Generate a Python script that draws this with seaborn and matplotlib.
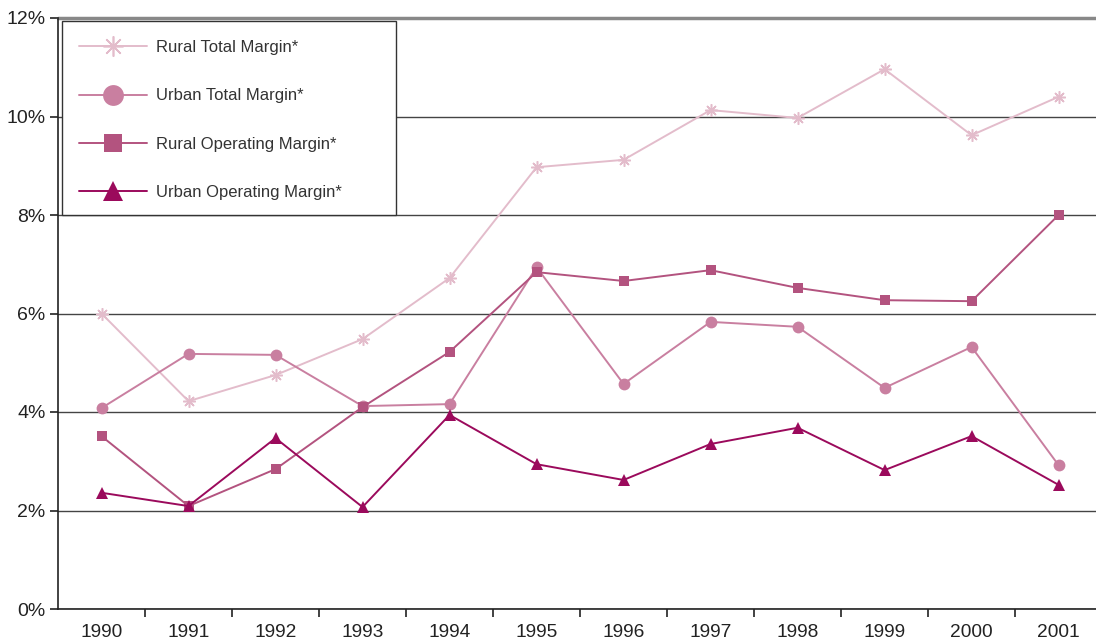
import numpy as np
import pandas as pd
import seaborn as sns
import matplotlib.pyplot as plt
from matplotlib.lines import Line2D
from matplotlib.patches import Rectangle
from matplotlib.ticker import FixedLocator, PercentFormatter

years = ["1990", "1991", "1992", "1993", "1994", "1995", "1996", "1997", "1998", "1999", "2000", "2001"]
rural_total = [6.00, 4.22, 4.75, 5.48, 6.72, 8.97, 9.12, 10.13, 9.97, 10.96, 9.62, 10.40]
urban_total = [4.08, 5.18, 5.16, 4.12, 4.16, 6.94, 4.57, 5.83, 5.73, 4.49, 5.32, 2.92]
rural_operating = [3.51, 2.09, 2.84, 4.10, 5.22, 6.84, 6.66, 6.88, 6.52, 6.27, 6.25, 8.00]
urban_operating = [2.36, 2.09, 3.47, 2.07, 3.94, 2.94, 2.62, 3.35, 3.68, 2.82, 3.51, 2.52]

series_names = ["Rural Total Margin*", "Urban Total Margin*",
                "Rural Operating Margin*", "Urban Operating Margin*"]
series_values = [rural_total, urban_total, rural_operating, urban_operating]
colors = ["#e3bccb", "#c97fa0", "#b3537f", "#9b0a5c"]
markers = [(8, 2, 0), "o", "s", "^"]
msizes = [9, 8.5, 7, 8.5]
legend_msizes = [14.5, 15, 12.5, 14.5]

df = pd.DataFrame({
    "year": years * 4,
    "value": [v for vals in series_values for v in vals],
    "series": [n for n in series_names for _ in years],
})
df["x"] = df["year"].map({y: i for i, y in enumerate(years)})

sns.set_style("white")
plt.rcParams["font.family"] = ["Liberation Sans", "DejaVu Sans"]

W, H = 1096, 643
fig = plt.figure(figsize=(W / 100, H / 100), dpi=100)
ax = fig.add_axes([58 / W, 34 / H, 1038 / W, 591 / H])

for name, col, mk, ms in zip(series_names, colors, markers, msizes):
    sub = df[df["series"] == name]
    sns.lineplot(data=sub, x="x", y="value", ax=ax, color=col, marker=mk,
                 markersize=ms, markeredgecolor=col,
                 markeredgewidth=1.1 if mk == markers[0] else 0,
                 linewidth=1.4, legend=False)

ax.set_xlim(-0.5, 11.43)
ax.set_ylim(0, 12)
ax.set_yticks(np.arange(0, 13, 2))
ax.yaxis.set_major_formatter(PercentFormatter(decimals=0))
ax.set_xticks(range(len(years)))
ax.set_xticklabels(years)
ax.xaxis.set_minor_locator(FixedLocator(np.arange(0.5, 11, 1)))
ax.tick_params(axis="x", which="major", bottom=True, length=0, labelsize=13.8, pad=11,
               colors="#222222")
ax.tick_params(axis="x", which="minor", bottom=True, length=6, width=1.2,
               direction="out", color="#222222")
ax.tick_params(axis="y", which="major", left=True, length=6, width=1.2, direction="out",
               labelsize=14, pad=3, colors="#222222")
ax.set_xlabel("")
ax.set_ylabel("")
ax.grid(axis="y", color="#444444", linewidth=1.0)
ax.set_axisbelow(True)
for side in ["top", "right"]:
    ax.spines[side].set_visible(False)
for side in ["left", "bottom"]:
    ax.spines[side].set_color("#222222")
    ax.spines[side].set_linewidth(1.2)
ax.axhline(12, color="#888888", linewidth=2.5, clip_on=False)

# legend box
box = Rectangle((62 / W, 1 - 215 / H), (396 - 62) / W, (215 - 21) / H,
                transform=fig.transFigure, facecolor="white", edgecolor="#333333",
                linewidth=1.0, zorder=4)
ax.add_patch(box)

handles = [Line2D([], [], color=c, marker=m, markersize=s, linewidth=1.4,
                  markeredgecolor=c, markeredgewidth=1.2 if m == markers[0] else 0)
           for c, m, s in zip(colors, markers, legend_msizes)]
leg = ax.legend(handles, series_names, loc="upper left",
                bbox_to_anchor=(79 / W, 1 - 40 / H), bbox_transform=fig.transFigure,
                frameon=False, fontsize=12, labelspacing=2.0,
                handlelength=4.08, handletextpad=0.54, borderpad=0, borderaxespad=0,
                labelcolor="#333333")
leg.set_zorder(5)

fig.savefig("out.png", dpi=100)
